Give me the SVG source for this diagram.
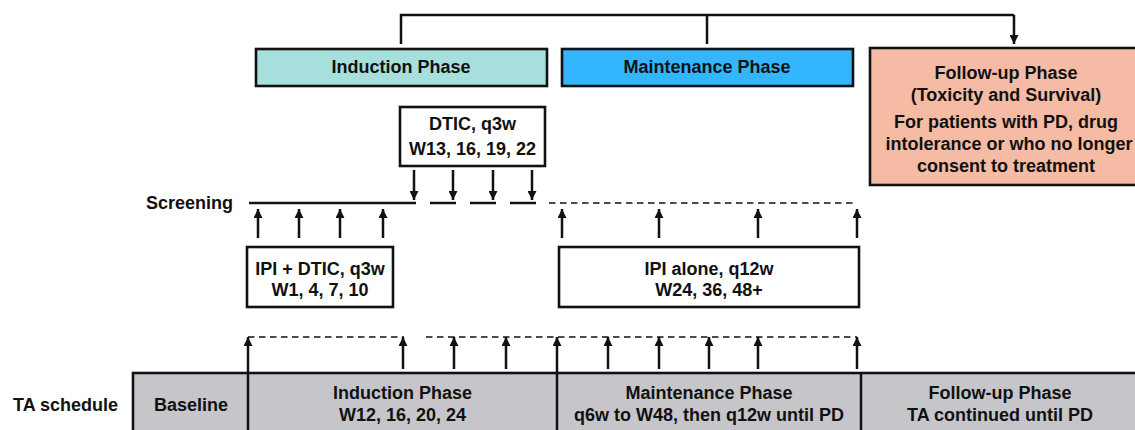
<svg xmlns="http://www.w3.org/2000/svg" width="1135" height="430" viewBox="0 0 1135 430">
<style>
text{font-family:"Liberation Sans",Arial,sans-serif;font-weight:bold;font-size:18px;fill:#111;}
.c{text-anchor:middle;}
.box{stroke:#111;stroke-width:2.6;}
.ln{stroke:#111;stroke-width:2.5;fill:none;}
.ar{stroke:#111;stroke-width:2.5;fill:none;marker-end:url(#ah);}
.dash{stroke:#111;stroke-width:1.6;fill:none;stroke-dasharray:6.5 4.5;}
</style>
<defs>
<marker id="ah" viewBox="0 0 10 10" refX="10" refY="5" markerWidth="9" markerHeight="9" markerUnits="userSpaceOnUse" orient="auto">
<path d="M0,0 L10,5 L0,10 z" fill="#111"/>
</marker>
</defs>

<g id="connectors">
<path class="ln" d="M401,44 V15 H1014"/>
<line class="ln" x1="707" y1="15" x2="707" y2="44"/>
<line class="ar" x1="1014" y1="15" x2="1014" y2="44"/>
<!-- screening line -->
<line class="ln" x1="249" y1="203" x2="416" y2="203"/>
<line class="ln" x1="430" y1="203" x2="456" y2="203"/>
<line class="ln" x1="470" y1="203" x2="496" y2="203"/>
<line class="ln" x1="510" y1="203" x2="536" y2="203"/>
<line class="dash" x1="549" y1="203" x2="853" y2="203"/>
<!-- DTIC down arrows -->
<line class="ar" x1="414" y1="170" x2="414" y2="200"/>
<line class="ar" x1="453" y1="170" x2="453" y2="200"/>
<line class="ar" x1="493" y1="170" x2="493" y2="200"/>
<line class="ar" x1="532" y1="170" x2="532" y2="200"/>
<!-- IPI+DTIC up arrows -->
<line class="ar" x1="258" y1="238" x2="258" y2="209"/>
<line class="ar" x1="299" y1="238" x2="299" y2="209"/>
<line class="ar" x1="340" y1="238" x2="340" y2="209"/>
<line class="ar" x1="383" y1="238" x2="383" y2="209"/>
<!-- IPI alone up arrows -->
<line class="ar" x1="562" y1="238" x2="562" y2="209"/>
<line class="ar" x1="659" y1="238" x2="659" y2="209"/>
<line class="ar" x1="758" y1="238" x2="758" y2="209"/>
<line class="ar" x1="857" y1="238" x2="857" y2="209"/>
<!-- TA dashed line -->
<line class="dash" x1="248" y1="337" x2="404" y2="337"/>
<line class="dash" x1="426" y1="337" x2="857" y2="337"/>
<!-- TA arrows -->
<line class="ar" x1="248" y1="372" x2="248" y2="337"/>
<line class="ar" x1="403" y1="369" x2="403" y2="337"/>
<line class="ar" x1="454" y1="369" x2="454" y2="337"/>
<line class="ar" x1="506" y1="369" x2="506" y2="337"/>
<line class="ar" x1="557" y1="372" x2="557" y2="337"/>
<line class="ar" x1="608" y1="369" x2="608" y2="337"/>
<line class="ar" x1="659" y1="369" x2="659" y2="337"/>
<line class="ar" x1="709" y1="369" x2="709" y2="337"/>
<line class="ar" x1="758" y1="369" x2="758" y2="337"/>
<line class="ar" x1="857" y1="369" x2="857" y2="337"/>
</g>

<g id="induction">
<rect class="box" x="256" y="49" width="291" height="37" fill="#a6dfdb"/>
<text class="c" x="401" y="73">Induction Phase</text>
</g>
<g id="maintenance">
<rect class="box" x="562" y="49" width="291" height="37" fill="#33b5ff"/>
<text class="c" x="707" y="73">Maintenance Phase</text>
</g>
<g id="followup">
<rect class="box" x="870" y="48" width="275" height="137" fill="#f6bba5"/>
<text class="c" x="1006" y="79">Follow-up Phase</text>
<text class="c" x="1006" y="101">(Toxicity and Survival)</text>
<text class="c" x="1006" y="128">For patients with PD, drug</text>
<text class="c" x="1009" y="150">intolerance or who no longer</text>
<text class="c" x="1006" y="172">consent to treatment</text>
</g>

<g id="dtic">
<rect class="box" x="400" y="107" width="145" height="59" fill="#fff"/>
<text class="c" x="472.5" y="130">DTIC, q3w</text>
<text class="c" x="472.5" y="155">W13, 16, 19, 22</text>
</g>
<g id="screening">
<text x="233" y="209" text-anchor="end">Screening</text>
</g>
<g id="ipi-dtic">
<rect class="box" x="247" y="247" width="146" height="60" fill="#fff"/>
<text class="c" x="320" y="275">IPI + DTIC, q3w</text>
<text class="c" x="320" y="296">W1, 4, 7, 10</text>
</g>
<g id="ipi-alone">
<rect class="box" x="559" y="247" width="300" height="60" fill="#fff"/>
<text class="c" x="709" y="275">IPI alone, q12w</text>
<text class="c" x="709" y="296">W24, 36, 48+</text>
</g>

<g id="ta-schedule">
<text x="13" y="411">TA schedule</text>
<rect class="box" x="133" y="373" width="1010" height="65" fill="#c6c5ca"/>
<line class="ln" x1="248" y1="373" x2="248" y2="432"/>
<line class="ln" x1="557" y1="373" x2="557" y2="432"/>
<line class="ln" x1="861" y1="373" x2="861" y2="432"/>
<text class="c" x="191" y="411">Baseline</text>
<text class="c" x="402.5" y="399">Induction Phase</text>
<text class="c" x="402.5" y="420.5">W12, 16, 20, 24</text>
<text class="c" x="709" y="399">Maintenance Phase</text>
<text class="c" x="709" y="420.5">q6w to W48, then q12w until PD</text>
<text class="c" x="1000" y="399">Follow-up Phase</text>
<text class="c" x="1000" y="420.5">TA continued until PD</text>
</g>
</svg>
